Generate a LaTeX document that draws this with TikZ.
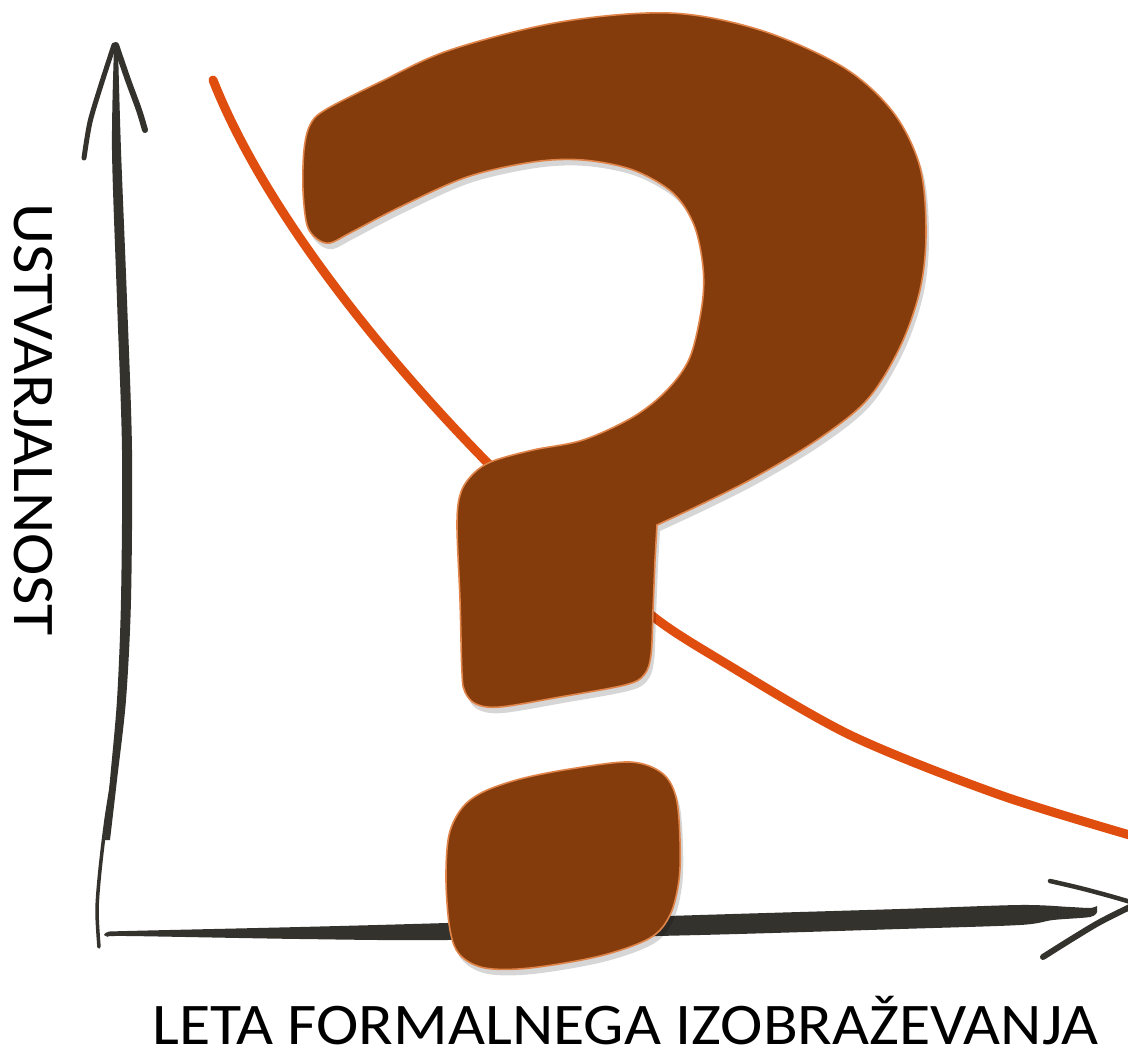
\documentclass[tikz,border=0pt]{standalone}
\usepackage{fontspec}
\setmainfont{Carlito}
\begin{document}
\begin{tikzpicture}[x=1pt,y=-1pt]
\definecolor{axiscol}{HTML}{33322D}
\definecolor{curvecol}{HTML}{DF4E0E}
\definecolor{qmfill}{HTML}{843C0C}
\definecolor{qmedge}{HTML}{E0844A}
\tikzset{
  axisfill/.style={fill=axiscol},
  axisline/.style={draw=axiscol,line cap=round,line join=round},
  curveline/.style={draw=curvecol,line width=9,line cap=round},
  qmbody/.style={fill=qmfill,draw=qmedge,line width=1.6},
  qmshadow/.style={fill=black,opacity=0.16},
  labeltext/.style={inner sep=0pt,text depth=0pt,font=\fontsize{59}{60}\selectfont}
}
\newcommand\qmHookPath{(657,525) -- plot[smooth,tension=0.55] coordinates {(655,560) (653,610) (651,655) (644,675) (625,685) (560,697) (500,707) (476,704) (465,692) (462,673) (460,600) (457,523) (461,492) (474,473) (493,461) (533,450) (583,440) (633,417) (667,390) (690,357) (702,305) (703,267) (694,225) (673,193) (633,170) (583,160) (533,162) (467,177) (400,207) (350,233) (330,243) (317,239) (307,225) (303,190) (304,150) (310,125) (325,110) (380,82) (450,50) (560,22) (670,13) (760,30) (843,67) (893,112) (920,167) (926,233) (920,290) (900,347) (867,400) (817,440) (750,480) (683,513)} -- cycle}
\newcommand\qmDotPath{plot[smooth cycle,tension=0.55] coordinates {(483,792) (520,779) (570,769) (630,762) (662,773) (676,797) (680,840) (679,880) (670,915) (650,938) (600,956) (530,968) (485,968) (460,955) (450,930) (446,880) (449,835) (462,808)}}
\useasboundingbox[fill=white] (0,0) rectangle (1128,1054);
% vertical axis
\fill[axisfill] plot[smooth] coordinates {(118,48) (121,150) (127,300) (132,450) (131,600) (126,700) (117,780) (110,840)} -- plot[smooth] coordinates {(105,840) (110,780) (117,700) (121,600) (122,450) (117,300) (112,150) (114,48)} -- cycle;
\draw[axisline,line width=3.5] plot[smooth] coordinates {(114,770) (106,820) (100,870) (97,910) (99,947)};
\draw[axisline,line width=6] plot[smooth] coordinates {(116,45) (128,80) (139,110) (145,130)};
\draw[axisline,line width=5] plot[smooth] coordinates {(114,45) (101,85) (90,122) (84,158)};
% horizontal axis
\fill[axisfill] plot[smooth] coordinates {(104,935) (108,932) (127,931) (300,927) (447,923) (700,915) (900,909) (1020,905) (1070,907) (1090,908) (1097,906)} -- plot[smooth] coordinates {(1097,912) (1090,917) (1053,920) (1020,925) (900,929) (700,935) (447,940) (300,939) (127,936) (108,937)} -- cycle;
\draw[axisline,line width=4.5] plot[smooth] coordinates {(1050,881) (1080,888) (1110,896) (1134,903)};
\draw[axisline,line width=6] plot[smooth] coordinates {(1043,957) (1070,940) (1100,922) (1134,905)};
% curve
\draw[curveline] (213,80) .. controls (265,212) and (390,370) .. (530,505);
\draw[curveline] plot[smooth] coordinates {(520,496) (590,560) (655,618) (720,660) (850,735) (1000,795) (1140,838)};
% question mark
\begin{scope}[shift={(3,6)}]
\fill[qmshadow] \qmHookPath;
\fill[qmshadow] \qmDotPath;
\end{scope}
\path[qmbody] \qmHookPath;
\path[qmbody] \qmDotPath;
% labels
\node[labeltext,anchor=base west] (xlabel) at (152,1044) {\scalebox{1.083}[1]{LETA FORMALNEGA IZOBRAŽEVANJA}};
\node[labeltext,anchor=base west,rotate=-90] (ylabel) at (15,203) {\scalebox{1.083}[1]{USTVARJALNOST}};
\end{tikzpicture}
\end{document}
